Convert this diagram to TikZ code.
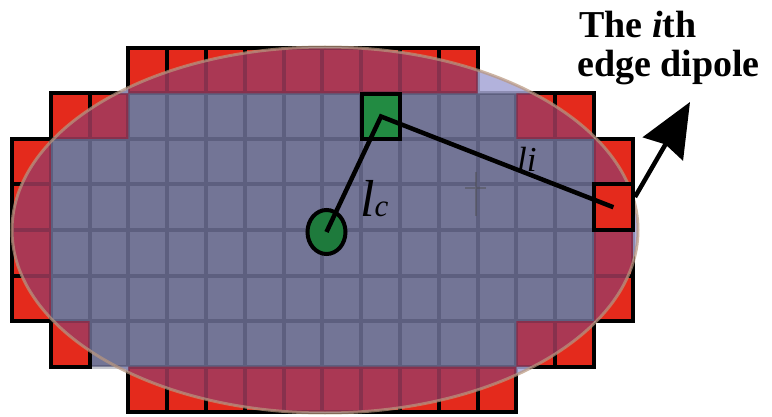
\documentclass[tikz,border=0pt]{standalone}
\usepackage{fontspec}
\setmainfont{Liberation Serif}
\newfontfamily\lserif{Liberation Serif}
\usetikzlibrary{arrows.meta,shapes.geometric}
\definecolor{redout}{RGB}{228,42,28}
\definecolor{redin}{RGB}{170,56,84}
\definecolor{cellin}{RGB}{115,117,150}
\definecolor{gridc}{RGB}{31,32,60}
\definecolor{lav}{RGB}{178,178,220}
\definecolor{ellline}{RGB}{185,150,125}
\definecolor{gsq}{RGB}{34,139,66}
\definecolor{gcirc}{RGB}{30,122,60}
\def\rowlist{0/3/11,1/1/14,2/0/15,3/0/15,4/0/15,5/0/15,6/1/14,7/3/12}
\def\edgelist{3/0,4/0,5/0,6/0,7/0,8/0,9/0,10/0,11/0,1/1,2/1,13/1,14/1,0/2,15/2,0/3,15/3,0/4,15/4,0/5,15/5,1/6,13/6,14/6,3/7,4/7,5/7,6/7,7/7,8/7,9/7,10/7,11/7,12/7}
\tikzset{
  gridline/.style={draw=gridc,draw opacity=0.25,line width=4pt},
  edgeline/.style={draw=black,line width=4pt,line join=miter},
  cellbox/.style={rectangle,draw=black,line width=4pt,minimum width=38.8pt,minimum height=45.5pt,inner sep=0pt},
  conn/.style={draw=black,line width=4.5pt},
  dotnode/.style={ellipse,draw=black,line width=4pt,fill=gcirc,minimum width=38pt,minimum height=44pt,inner sep=0pt},
  titlefont/.style={anchor=base west,inner sep=0pt,font=\lserif\fontsize{38}{39}\selectfont\bfseries},
}
\begin{document}
\begin{tikzpicture}[x=1pt,y=-1pt]
\useasboundingbox (0,0) rectangle (772,417);
\fill[white] (0,0) rectangle (772,417);
% ---------- layer outside the ellipse ----------
\fill[cellin] \foreach \r/\a/\b in \rowlist {(12+38.8*\a,48+45.5*\r) rectangle (50.8+38.8*\b,93.5+45.5*\r)};
\fill[redout] \foreach \c/\r in \edgelist {(12+38.8*\c,48+45.5*\r) rectangle ++(38.8,45.5)};
\path[gridline] \foreach \r/\a/\b in \rowlist {\foreach \c in {\a,...,\b} {(12+38.8*\c,48+45.5*\r) rectangle ++(38.8,45.5)}};
\path[edgeline] \foreach \c/\r in \edgelist {(12+38.8*\c,48+45.5*\r) rectangle ++(38.8,45.5)};
% ---------- layer inside the ellipse ----------
\begin{scope}
\clip (325,230) ellipse [x radius=313pt,y radius=183pt];
\fill[lav] (325,230) ellipse [x radius=313pt,y radius=183pt];
\fill[cellin] \foreach \r/\a/\b in \rowlist {(12+38.8*\a,48+45.5*\r) rectangle (50.8+38.8*\b,93.5+45.5*\r)};
\fill[redin] \foreach \c/\r in \edgelist {(12+38.8*\c,48+45.5*\r) rectangle ++(38.8,45.5)};
\path[gridline] \foreach \r/\a/\b in \rowlist {\foreach \c in {\a,...,\b} {(12+38.8*\c,48+45.5*\r) rectangle ++(38.8,45.5)}};
\end{scope}
\draw[ellline,draw opacity=0.7,line width=3pt] (325,230) ellipse [x radius=313pt,y radius=183pt];
% faint mark
\draw[black!70,opacity=0.45,line width=1.2pt] (476,172) -- (476,216) (465,188) -- (486,188);
% ---------- highlighted cells, centre, connectors ----------
\node[cellbox,fill=gsq] (gcell) at (381,116.5) {};
\node[cellbox,fill=redout] (rcell) at (613.4,207.25) {};
\node[dotnode] (ctr) at (326.5,232) {};
\draw[conn,line join=miter] (ctr.center) -- (gcell.center) -- (rcell.center);
\node[anchor=base west,inner sep=0pt] (lc) at (360,217) {\lserif\fontsize{52}{52}\selectfont\itshape l\fontsize{31}{31}\selectfont c};
\node[anchor=base west,inner sep=0pt] (li) at (517,172) {\lserif\fontsize{35}{35}\selectfont\itshape li};
% ---------- label and arrow ----------
\node[titlefont] (t1) at (579,38) {The \textit{i}th};
\node[titlefont] (t2) at (577,77) {edge dipole};
\coordinate (astart) at (635,197);
\coordinate (atip) at (690,102);
\draw[line width=4.5pt,-{Stealth[length=54pt,width=46pt,inset=5pt]}] (astart) -- (atip);
\end{tikzpicture}
\end{document}
